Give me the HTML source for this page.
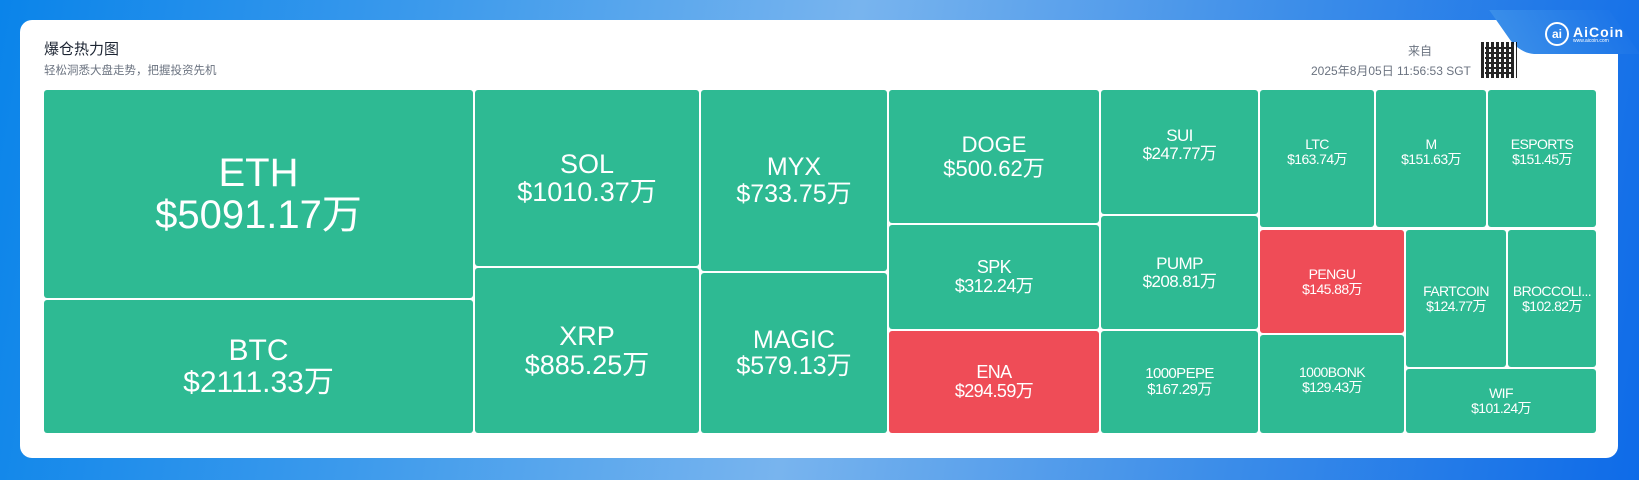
<!DOCTYPE html>
<html><head><meta charset="utf-8"><style>
*{margin:0;padding:0;box-sizing:border-box}
body{width:1639px;height:480px;overflow:hidden;position:relative;font-family:"Liberation Sans","Noto Sans CJK SC",sans-serif;
background:linear-gradient(100deg,#0a84ea 0%,#3c9aec 25%,#78b4ee 50%,#3d8ee9 75%,#0e6be8 100%);}
.card{position:absolute;left:20px;top:20px;width:1598px;height:438px;background:#fff;border-radius:12px}
.notch{position:absolute;left:1520px;top:10px;width:120px;height:44px;background:linear-gradient(100deg,#3a8ee9,#1b74e8);border-bottom-left-radius:14px;transform:skewX(35deg);transform-origin:bottom left}
.t{position:absolute;display:flex;flex-direction:column;align-items:center;justify-content:center;color:#fff;text-align:center;line-height:1.05;border-radius:3px;background:#2eba93}
.s{letter-spacing:-0.6px}
.r{background:#ef4c57}
</style></head><body>
<div class="card"></div>
<div class="notch"></div>
<div style="position:absolute;left:1545px;top:22px;color:#fff;display:flex;align-items:center;gap:4px">
<div style="width:24px;height:24px;border:2px solid #fff;border-radius:50%;font-size:12px;font-weight:bold;display:flex;align-items:center;justify-content:center">ai</div>
<div style="line-height:1"><div style="font-size:14px;font-weight:bold;letter-spacing:1px">AiCoin</div><div style="font-size:5px">www.aicoin.com</div></div></div>
<div style="position:absolute;left:44px;top:38px;font-size:15px;color:#1d2533">爆仓热力图</div>
<div style="position:absolute;left:44px;top:62px;font-size:11.5px;color:#6b7380">轻松洞悉大盘走势，把握投资先机</div>
<div style="position:absolute;left:1408px;top:42px;font-size:12px;color:#6b7380">来自</div>
<div style="position:absolute;left:1311px;top:62px;font-size:12px;color:#6b7380">2025年8月05日 11:56:53 SGT</div>
<div style="position:absolute;left:1481px;top:42px;width:36px;height:36px;background:repeating-linear-gradient(90deg,#000 0 3px,#fff 3px 5px),#000;opacity:.85">
<div style="position:absolute;inset:4px;background:repeating-linear-gradient(0deg,#000 0 2px,#fff 2px 5px);mix-blend-mode:multiply"></div></div>

<div class="t" style="left:44px;top:90px;width:429px;height:208px;font-size:40px">ETH<br>$5091.17万</div>
<div class="t" style="left:44px;top:300px;width:429px;height:133px;font-size:30px">BTC<br>$2111.33万</div>
<div class="t" style="left:475px;top:90px;width:224px;height:176px;font-size:27px">SOL<br>$1010.37万</div>
<div class="t" style="left:475px;top:268px;width:224px;height:165px;font-size:27px">XRP<br>$885.25万</div>
<div class="t" style="left:701px;top:90px;width:186px;height:181px;font-size:25px">MYX<br>$733.75万</div>
<div class="t" style="left:701px;top:273px;width:186px;height:160px;font-size:25px">MAGIC<br>$579.13万</div>
<div class="t" style="left:889px;top:90px;width:210px;height:133px;font-size:22px">DOGE<br>$500.62万</div>
<div class="t s" style="left:889px;top:225px;width:210px;height:104px;font-size:18px">SPK<br>$312.24万</div>
<div class="t r s" style="left:889px;top:331px;width:210px;height:102px;font-size:18px">ENA<br>$294.59万</div>
<div class="t s" style="left:1101px;top:90px;width:157px;height:124px;font-size:17px;padding-bottom:14px">SUI<br>$247.77万</div>
<div class="t s" style="left:1101px;top:216px;width:157px;height:113px;font-size:17px">PUMP<br>$208.81万</div>
<div class="t s" style="left:1101px;top:331px;width:157px;height:102px;font-size:15px">1000PEPE<br>$167.29万</div>
<div class="t s" style="left:1260px;top:90px;width:114px;height:137px;font-size:14px;padding-bottom:14px">LTC<br>$163.74万</div>
<div class="t s" style="left:1376px;top:90px;width:110px;height:137px;font-size:14px;padding-bottom:14px">M<br>$151.63万</div>
<div class="t s" style="left:1488px;top:90px;width:108px;height:137px;font-size:14px;padding-bottom:14px">ESPORTS<br>$151.45万</div>
<div class="t r s" style="left:1260px;top:230px;width:144px;height:103px;font-size:14px">PENGU<br>$145.88万</div>
<div class="t s" style="left:1260px;top:335px;width:144px;height:98px;font-size:14px;padding-bottom:8px">1000BONK<br>$129.43万</div>
<div class="t s" style="left:1406px;top:230px;width:100px;height:137px;font-size:14px">FARTCOIN<br>$124.77万</div>
<div class="t s" style="left:1508px;top:230px;width:88px;height:137px;font-size:14px">BROCCOLI...<br>$102.82万</div>
<div class="t s" style="left:1406px;top:369px;width:190px;height:64px;font-size:14px">WIF<br>$101.24万</div>
</body></html>
